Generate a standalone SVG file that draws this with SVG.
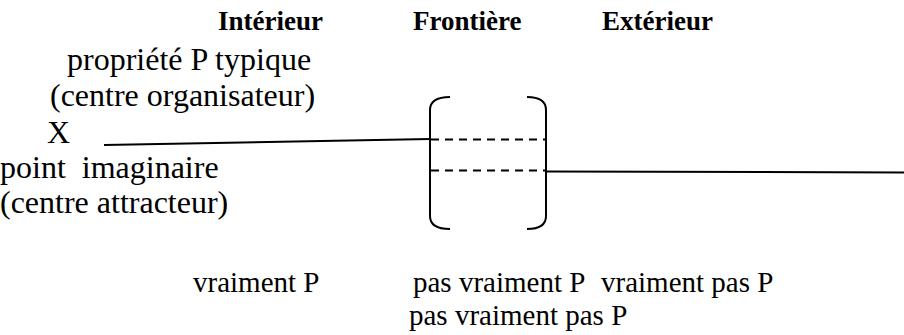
<svg xmlns="http://www.w3.org/2000/svg" width="904" height="335" viewBox="0 0 904 335">
<style>
text{font-family:"Liberation Serif","Times New Roman",serif;font-size:32px;fill:#000}
.h{font-weight:bold;font-size:27px}
.b{font-size:29px}
.ln{stroke:#000;stroke-width:2;fill:none}
.d{stroke:#000;stroke-width:2;stroke-dasharray:8,6;fill:none}
</style>
<rect width="904" height="335" fill="#fff"/>
<g id="headers">
<text class="h" x="218" y="30">Intérieur</text>
<text class="h" x="413" y="30">Frontière</text>
<text class="h" x="602" y="30">Extérieur</text>
</g>
<g id="centre-organisateur">
<text x="67" y="70">propriété P typique</text>
<text x="50" y="106">(centre organisateur)</text>
<text x="47" y="143">X</text>
</g>
<g id="centre-attracteur">
<text x="0" y="178" xml:space="preserve">point  imaginaire</text>
<text x="0" y="213">(centre attracteur)</text>
</g>
<g id="frontiere">
<path class="ln" d="M450,97 Q430,97 430,110 L430,216 Q430,229 450,229"/>
<path class="ln" d="M527,97 Q546,97 546,110 L546,216 Q546,229 527,229"/>
<line class="d" x1="431" y1="139.5" x2="546" y2="139.5"/>
<line class="d" x1="431" y1="170.5" x2="546" y2="170.5"/>
</g>
<g id="connectors">
<line class="ln" x1="104" y1="145" x2="430" y2="139"/>
<line class="ln" x1="546" y1="171.5" x2="904" y2="172.5"/>
</g>
<g id="labels">
<text class="b" x="193" y="292">vraiment P</text>
<text class="b" x="413" y="292">pas vraiment P</text>
<text class="b" x="601" y="292">vraiment pas P</text>
<text class="b" x="409" y="325">pas vraiment pas P</text>
</g>
</svg>
